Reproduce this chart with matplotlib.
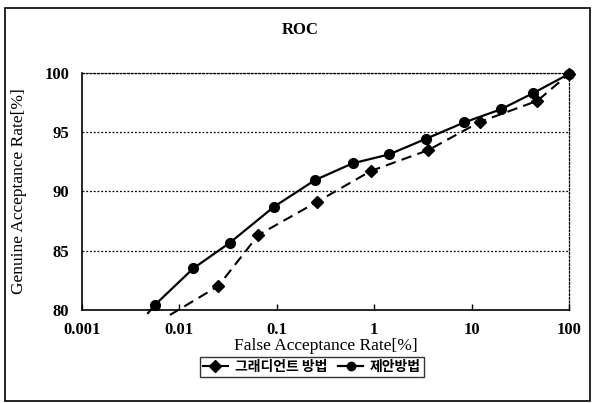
import matplotlib
matplotlib.use("Agg")
import matplotlib.pyplot as plt
from matplotlib.lines import Line2D
from matplotlib.patches import Rectangle

# Data (FAR in %, GAR in %)
far_gradient = [0.0080, 0.0251, 0.0646, 0.26, 0.92, 3.6, 12.2, 47.3, 100]
gar_gradient = [79.58, 82.02, 86.32, 89.12, 91.71, 93.48, 95.86, 97.63, 99.9]
far_proposed = [0.00477, 0.0056, 0.0139, 0.033, 0.0935, 0.247, 0.60, 1.43, 3.4, 8.4, 19.9, 42.4, 100]
gar_proposed = [79.75, 80.42, 83.51, 85.67, 88.70, 90.95, 92.36, 93.12, 94.43, 95.81, 96.91, 98.26, 99.9]

series_names = ["그래디언트 방법", "제안방법"]
title = "ROC"
xlabel = "False Acceptance Rate[%]"
ylabel = "Genuine Acceptance Rate[%]"
xticks = [0.001, 0.01, 0.1, 1, 10, 100]
xtick_labels = ["0.001", "0.01", "0.1", "1", "10", "100"]
yticks = [80, 85, 90, 95, 100]

serif = ["Liberation Serif", "DejaVu Serif"]
korean = ["Noto Sans CJK KR", "DejaVu Sans"]

fig = plt.figure(figsize=(5.94, 4.03), dpi=100)
fig.patch.set_facecolor("white")
fig.patches.append(Rectangle((0.008, 0.005), 0.985, 0.975, transform=fig.transFigure,
                             fill=False, edgecolor="black", linewidth=1.2))

ax = fig.add_axes([0.138, 0.2308, 0.820, 0.5888])
ax.set_xscale("log")
ax.set_xlim(0.001, 100)
ax.set_ylim(80, 100)

l1, = ax.plot(far_gradient, gar_gradient, color="black", linewidth=1.5,
              linestyle=(0, (5, 3)), marker="D", markersize=6.5, markevery=list(range(1, len(far_gradient))),
              clip_on=False, zorder=3)
l2, = ax.plot(far_proposed, gar_proposed, color="black", linewidth=1.6,
              linestyle="-", marker="o", markersize=7, markevery=list(range(1, len(far_proposed))),
              clip_on=False, zorder=4)

for y in yticks[1:]:
    ax.axhline(y, color="black", linestyle=(0, (1.5, 1.5)), linewidth=0.9, zorder=1)

for side in ["top", "right"]:
    ax.spines[side].set_linestyle((0, (1.5, 1.5)))
    ax.spines[side].set_linewidth(0.9)
for side in ["left", "bottom"]:
    ax.spines[side].set_linewidth(1.2)

ax.set_xticks(xticks)
ax.set_xticklabels(xtick_labels)
ax.minorticks_off()
ax.set_yticks(yticks)
ax.tick_params(axis="x", direction="in", length=4, width=1, pad=9)
ax.tick_params(axis="y", length=0, pad=9)
for lab in ax.get_xticklabels() + ax.get_yticklabels():
    lab.set_fontfamily(serif)
    lab.set_fontweight("bold")
    lab.set_fontsize(12)

ax.set_xlabel(xlabel, fontfamily=serif, fontsize=12.5)
ax.set_ylabel(ylabel, fontfamily=serif, fontsize=12.5)
ax.xaxis.set_label_coords(0.5, -0.118)
ax.yaxis.set_label_coords(-0.113, 0.5)
fig.text(0.505, 0.925, title, ha="center", va="center", fontfamily=serif,
         fontsize=12, fontweight="bold")

h1 = Line2D([], [], color="black", linewidth=1.5, marker="D", markersize=6)
h2 = Line2D([], [], color="black", linewidth=1.6, marker="o", markersize=6)
leg = fig.legend([h1, h2], series_names, loc="center", bbox_to_anchor=(0.525, 0.090),
                 ncol=2, frameon=True, fancybox=False, edgecolor="black",
                 handlelength=1.8, handletextpad=0.5, columnspacing=0.8,
                 borderpad=0.2, prop={"family": korean, "size": 10, "weight": "bold"})
leg.get_frame().set_linewidth(1.0)

fig.savefig("out.png", dpi=100, facecolor="white")
